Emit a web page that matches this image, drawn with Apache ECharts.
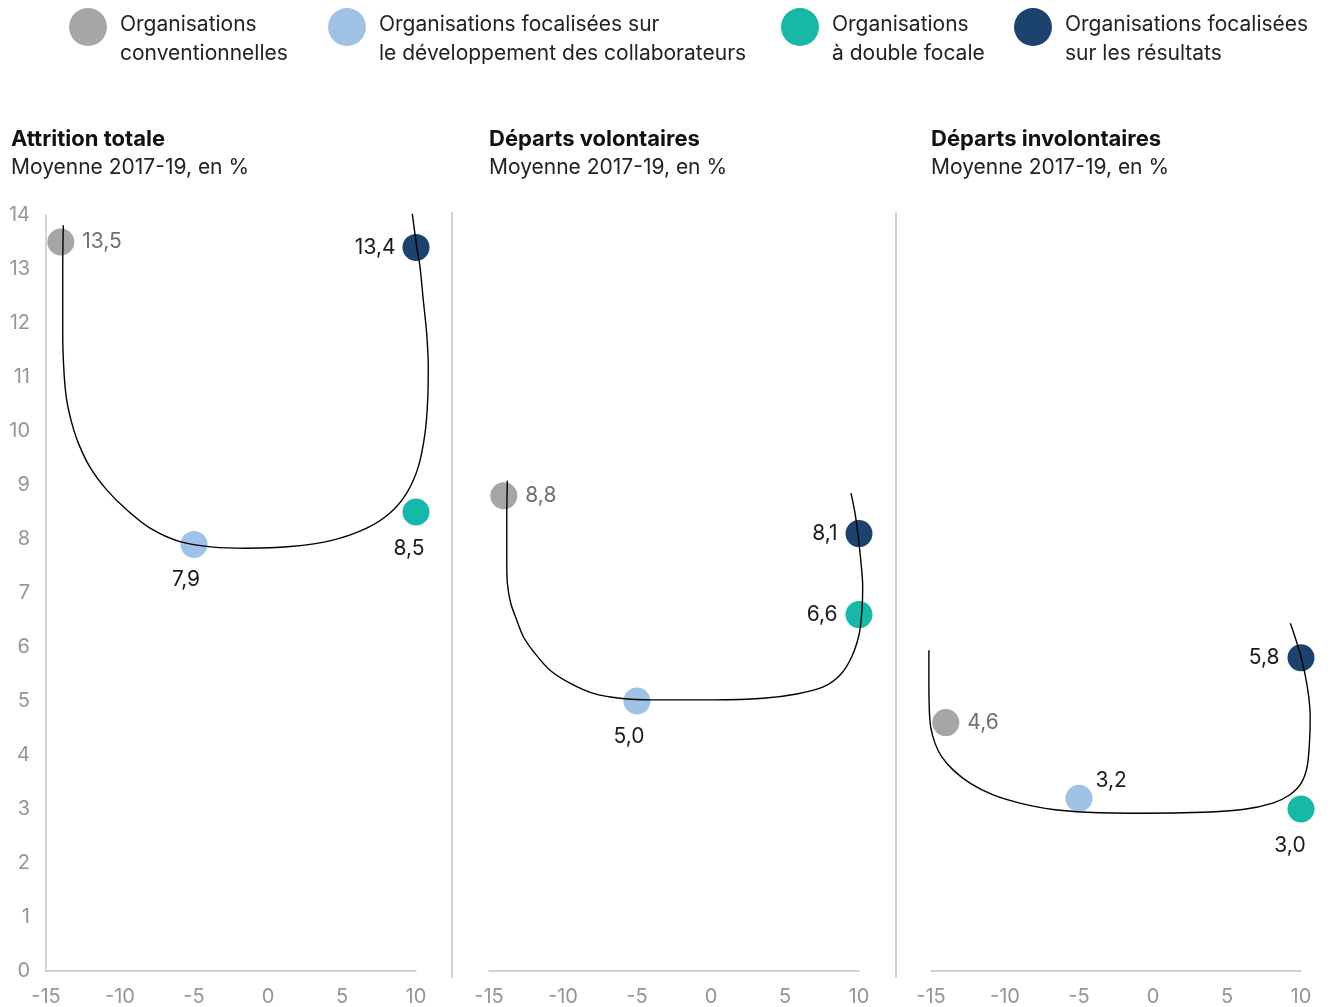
<!DOCTYPE html>
<html>
<head>
<meta charset="utf-8">
<script src="https://cdn.jsdelivr.net/npm/echarts@6/dist/echarts.min.js"></script>
<style>
html,body{margin:0;padding:0;background:#fff;}
#chart{width:1330px;height:1007px;}
</style>
</head>
<body>
<div id="chart"></div>
<script>
// ---------- DATA ----------
const panelTitles = ['Attrition totale', 'Départs volontaires', 'Départs involontaires'];
const panelSubtitle = 'Moyenne 2017-19, en %';
const categories = [
  'Organisations conventionnelles',
  'Organisations focalisées sur le développement des collaborateurs',
  'Organisations à double focale',
  'Organisations focalisées sur les résultats'
];
const legendLabels = [
  'Organisations\nconventionnelles',
  'Organisations focalisées sur\nle développement des collaborateurs',
  'Organisations\nà double focale',
  'Organisations focalisées\nsur les résultats'
];
// horizontal placement of each group on the -15..10 axis
const categoryX = [-14, -5, 10, 10];
// values per panel (Attrition totale, Départs volontaires, Départs involontaires)
const conventionnelles = [13.5, 8.8, 4.6];
const developpement = [7.9, 5.0, 3.2];
const doubleFocale = [8.5, 6.6, 3.0];
const resultats = [13.4, 8.1, 5.8];
const xTicks = [-15, -10, -5, 0, 5, 10];
const yTicks = [0, 1, 2, 3, 4, 5, 6, 7, 8, 9, 10, 11, 12, 13, 14];
// hand-drawn trend curves
const curveTotale = [[-13.83,13.81],[-13.87,13.04],[-13.87,11.81],[-13.78,11.07],[-13.6,10.57],[-13.26,10.15],[-12.82,9.78],[-12.03,9.33],[-10.9,8.91],[-9.55,8.54],[-7.97,8.2],[-5.95,7.95],[-3.72,7.85],[-1.44,7.83],[1.49,7.86],[4.39,7.98],[6.67,8.2],[8.24,8.48],[9.37,8.85],[10.16,9.34],[10.61,9.96],[10.79,10.57],[10.83,11.19],[10.72,11.81],[10.49,12.43],[10.27,13.04],[10.05,13.41],[9.75,14.02]];
const curveVolontaires = [[-13.76,9.08],[-13.8,8.35],[-13.8,7.61],[-13.76,7.18],[-13.53,6.81],[-13.13,6.5],[-12.68,6.19],[-11.89,5.88],[-10.88,5.57],[-9.53,5.33],[-7.95,5.14],[-6.15,5.05],[-3.9,5.02],[0.16,5.02],[3.53,5.05],[5.79,5.13],[7.59,5.26],[8.72,5.48],[9.51,5.82],[10.02,6.25],[10.2,6.69],[10.25,7.12],[10.14,7.55],[9.95,8.04],[9.73,8.48],[9.46,8.85]];
const curveInvolontaires = [[-15.14,5.94],[-15.14,5.33],[-15.11,4.83],[-15.02,4.52],[-14.73,4.22],[-14.28,3.97],[-13.49,3.72],[-12.36,3.48],[-10.79,3.26],[-8.99,3.11],[-6.74,2.99],[-4.48,2.94],[-0.65,2.92],[3.4,2.94],[6.1,2.99],[8.13,3.11],[9.26,3.26],[10.05,3.48],[10.45,3.78],[10.61,4.22],[10.66,4.71],[10.56,5.08],[10.34,5.45],[9.98,5.88],[9.32,6.44]];

// ---------- STYLE / LAYOUT ----------
const FONT = 'Inter';
const colors = ['#a6a6a6', '#a0c2e7', '#17b8a7', '#1c436d'];
const labelColors = ['#707070', '#1a1a1a', '#1a1a1a', '#1a1a1a'];
const axisGray = '#c4c4c4';
const tickGray = '#959595';
const gridLefts = [46, 489, 931];
const gridWidth = 370;
const gridTop = 215;
const gridBottom = 36;
const titleLefts = [11, 489, 931];
const legendLefts = [69, 328, 781, 1014];
// overlay grid for the curves: same scale, wider extent so nothing is cut
const pxPerX = gridWidth / 25;
const pxPerY = (1007 - gridTop - gridBottom) / 14;
const curveXMin = -17, curveXMax = 12, curveYMax = 15;
// label placement per panel per category
const labelPlacement = [
  [{position:'right',distance:8}, {position:'bottom',distance:11,offset:[-8,0]}, {position:'bottom',distance:13,offset:[-7,0]}, {position:'left',distance:7}],
  [{position:'right',distance:8}, {position:'bottom',distance:12,offset:[-8,0]}, {position:'left',distance:8}, {position:'left',distance:8}],
  [{position:'right',distance:8}, {position:'right',distance:3,offset:[0,-18]}, {position:'bottom',distance:13,offset:[-11,0]}, {position:'left',distance:8}]
];

const valueSets = [conventionnelles, developpement, doubleFocale, resultats];
const curves = [curveTotale, curveVolontaires, curveInvolontaires];
const fmt = v => v.toFixed(1).replace('.', ',');
const legendIcon = 'path://M0,19 A19,19 0 1 1 38,19 A19,19 0 1 1 0,19 Z M0,62 L0.01,62 Z';

const grids = [], xAxes = [], yAxes = [], series = [], titles = [];
panelTitles.forEach((t, p) => {
  grids.push({left: gridLefts[p], width: gridWidth, top: gridTop, bottom: gridBottom, containLabel: false});
  xAxes.push({
    type: 'value', gridIndex: p, min: xTicks[0], max: xTicks[xTicks.length-1], interval: 5,
    axisLine: {show: true, onZero: false, lineStyle: {color: axisGray, width: 1.5}},
    axisTick: {show: false}, splitLine: {show: false},
    axisLabel: {color: tickGray, fontFamily: FONT, fontSize: 20, margin: 16}
  });
  yAxes.push({
    type: 'value', gridIndex: p, min: yTicks[0], max: yTicks[yTicks.length-1], interval: 1,
    axisLine: {show: p === 0, onZero: false, lineStyle: {color: axisGray, width: 1.5}},
    axisTick: {show: false}, splitLine: {show: false},
    axisLabel: {show: p === 0, color: tickGray, fontFamily: FONT, fontSize: 20, margin: 16}
  });
  titles.push({
    text: t, subtext: panelSubtitle, left: titleLefts[p], top: 128, itemGap: 7, padding: 0,
    textStyle: {fontFamily: FONT, fontSize: 22, fontWeight: 'bold', color: '#111'},
    subtextStyle: {fontFamily: FONT, fontSize: 21, fontWeight: 'normal', color: '#222'}
  });
  categories.forEach((c, k) => {
    const lp = labelPlacement[p][k];
    series.push({
      name: c, type: 'scatter', xAxisIndex: p, yAxisIndex: p, clip: false, z: 2,
      symbol: 'circle', symbolSize: 27,
      itemStyle: {color: colors[k], opacity: 1},
      label: {
        show: true, position: lp.position, distance: lp.distance, offset: lp.offset || [0,0],
        formatter: (d) => fmt(d.value[1]),
        fontFamily: FONT, fontSize: 21, color: labelColors[k]
      },
      data: [[categoryX[k], valueSets[k][p]]]
    });
  });
});
// overlay grids (hidden axes) for the curves
panelTitles.forEach((t, p) => {
  const gi = 3 + p;
  grids.push({
    left: gridLefts[p] - (xTicks[0] - curveXMin) * pxPerX,
    width: (curveXMax - curveXMin) * pxPerX,
    top: gridTop - (curveYMax - yTicks[yTicks.length-1]) * pxPerY,
    bottom: gridBottom
  });
  xAxes.push({type: 'value', gridIndex: gi, min: curveXMin, max: curveXMax, show: false});
  yAxes.push({type: 'value', gridIndex: gi, min: 0, max: curveYMax, show: false});
  series.push({
    name: 'curve' + p, type: 'line', xAxisIndex: gi, yAxisIndex: gi, clip: false, z: 5,
    smooth: 0.3, symbol: 'none', silent: true,
    lineStyle: {color: '#000', width: 1.4},
    data: curves[p]
  });
});

const legends = categories.map((c, k) => ({
  data: [c], left: legendLefts[k], top: 8, orient: 'horizontal', padding: 0,
  icon: legendIcon, itemWidth: 38, itemHeight: 62, itemGap: 0,
  selectedMode: false,
  formatter: () => legendLabels[k],
  textStyle: {fontFamily: FONT, fontSize: 21, color: '#222', lineHeight: 29, padding: [0, 0, 0, 8]}
}));

const chart = echarts.init(document.getElementById('chart'), null, {renderer: 'canvas'});
chart.setOption({
  backgroundColor: '#fff',
  animation: false,
  title: titles,
  legend: legends,
  grid: grids,
  xAxis: xAxes,
  yAxis: yAxes,
  series: series,
  graphic: [
    {type: 'line', shape: {x1: 452, y1: 212, x2: 452, y2: 978}, style: {stroke: axisGray, lineWidth: 1.5}, silent: true},
    {type: 'line', shape: {x1: 896, y1: 212, x2: 896, y2: 978}, style: {stroke: axisGray, lineWidth: 1.5}, silent: true}
  ]
});
</script>
</body>
</html>
